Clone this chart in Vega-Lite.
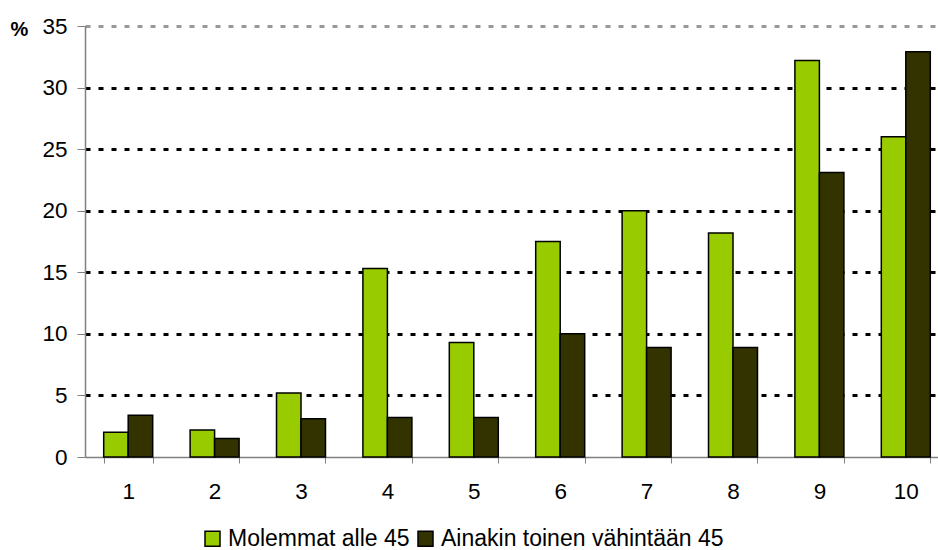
{
  "$schema": "https://vega.github.io/schema/vega-lite/v6.json",
  "autosize": {"type": "none"},
  "width": 853,
  "height": 431,
  "padding": {"left": 85, "top": 26, "right": 0, "bottom": 93},
  "background": "white",
  "data": {
    "values": [
      {"luokka": 1, "ryhma": "Molemmat alle 45", "arvo": 2.0},
      {"luokka": 1, "ryhma": "Ainakin toinen vähintään 45", "arvo": 3.4},
      {"luokka": 2, "ryhma": "Molemmat alle 45", "arvo": 2.2},
      {"luokka": 2, "ryhma": "Ainakin toinen vähintään 45", "arvo": 1.5},
      {"luokka": 3, "ryhma": "Molemmat alle 45", "arvo": 5.2},
      {"luokka": 3, "ryhma": "Ainakin toinen vähintään 45", "arvo": 3.1},
      {"luokka": 4, "ryhma": "Molemmat alle 45", "arvo": 15.3},
      {"luokka": 4, "ryhma": "Ainakin toinen vähintään 45", "arvo": 3.2},
      {"luokka": 5, "ryhma": "Molemmat alle 45", "arvo": 9.3},
      {"luokka": 5, "ryhma": "Ainakin toinen vähintään 45", "arvo": 3.2},
      {"luokka": 6, "ryhma": "Molemmat alle 45", "arvo": 17.5},
      {"luokka": 6, "ryhma": "Ainakin toinen vähintään 45", "arvo": 10.0},
      {"luokka": 7, "ryhma": "Molemmat alle 45", "arvo": 20.0},
      {"luokka": 7, "ryhma": "Ainakin toinen vähintään 45", "arvo": 8.9},
      {"luokka": 8, "ryhma": "Molemmat alle 45", "arvo": 18.2},
      {"luokka": 8, "ryhma": "Ainakin toinen vähintään 45", "arvo": 8.9},
      {"luokka": 9, "ryhma": "Molemmat alle 45", "arvo": 32.2},
      {"luokka": 9, "ryhma": "Ainakin toinen vähintään 45", "arvo": 23.1},
      {"luokka": 10, "ryhma": "Molemmat alle 45", "arvo": 26.0},
      {"luokka": 10, "ryhma": "Ainakin toinen vähintään 45", "arvo": 32.9}
    ]
  },
  "mark": {"type": "bar", "stroke": "black", "strokeWidth": 1.5, "clip": false},
  "encoding": {
    "x": {
      "field": "luokka",
      "type": "ordinal",
      "scale": {"range": [0, 864], "paddingInner": 0.433, "paddingOuter": 0.2165},
      "axis": {
        "title": null,
        "labelAngle": 0,
        "labelFont": "Liberation Sans",
        "labelFontSize": 22.5,
        "labelColor": "black",
        "labelPadding": 17,
        "tickBand": "extent",
        "tickSize": 6,
        "tickColor": "#808080",
        "domainColor": "#808080",
        "domainWidth": 1.5,
        "grid": false
      }
    },
    "xOffset": {
      "field": "ryhma",
      "type": "nominal",
      "sort": ["Molemmat alle 45", "Ainakin toinen vähintään 45"],
      "scale": {"paddingInner": 0, "paddingOuter": 0}
    },
    "y": {
      "field": "arvo",
      "type": "quantitative",
      "scale": {"domain": [0, 35], "nice": false},
      "axis": {
        "title": "%",
        "titleAngle": 0,
        "titleFont": "Liberation Sans",
        "titleFontSize": 20,
        "titleFontWeight": "bold",
        "titleX": -66,
        "titleY": 3,
        "titleAlign": "center",
        "titleBaseline": "middle",
        "values": [0, 5, 10, 15, 20, 25, 30, 35],
        "labelFont": "Liberation Sans",
        "labelFontSize": 22.5,
        "labelColor": "black",
        "labelPadding": 10,
        "tickSize": 8,
        "tickColor": "#808080",
        "domainColor": "#808080",
        "domainWidth": 1.5,
        "grid": true,
        "gridColor": {"condition": [{"test": "datum.value === 35", "value": "#999999"}, {"test": "datum.value === 0", "value": "transparent"}], "value": "black"},
        "gridDash": [5, 8],
        "gridWidth": 3
      }
    },
    "color": {
      "field": "ryhma",
      "type": "nominal",
      "sort": ["Molemmat alle 45", "Ainakin toinen vähintään 45"],
      "scale": {"domain": ["Molemmat alle 45", "Ainakin toinen vähintään 45"], "range": ["#99CC00", "#333300"]},
      "legend": {
        "title": null,
        "orient": "none",
        "direction": "horizontal",
        "legendX": 116,
        "legendY": 501,
        "symbolType": "square",
        "symbolSize": 225,
        "symbolStrokeColor": "black",
        "symbolStrokeWidth": 1.5,
        "symbolOpacity": 1,
        "labelFont": "Liberation Sans",
        "labelFontSize": 23,
        "labelColor": "black",
        "labelLimit": 0,
        "labelOffset": 4,
        "columnPadding": 4
      }
    }
  },
  "config": {
    "view": {"stroke": null},
    "bar": {"opacity": 1}
  }
}
